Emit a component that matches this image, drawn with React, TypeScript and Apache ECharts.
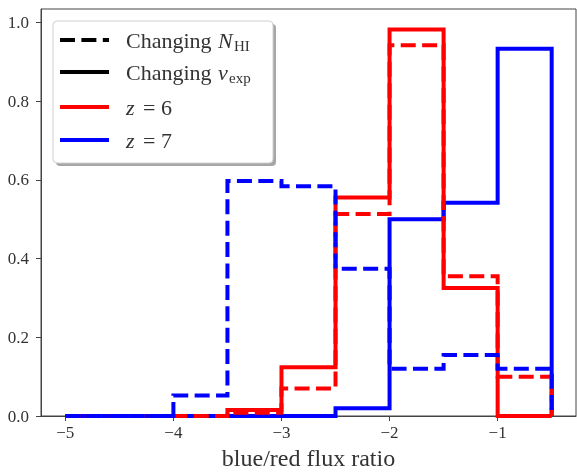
import React, { useEffect, useRef } from "react";
import * as echarts from "echarts";

const binEdges = [-5, -4.5, -4, -3.5, -3, -2.5, -2, -1.5, -1, -0.5];
const z6Vexp = [0, 0, 0, 0.015, 0.124, 0.555, 0.982, 0.325, 0];
const z6NHI = [0, 0, 0, 0.008, 0.07, 0.513, 0.942, 0.355, 0.1];
const z7Vexp = [0, 0, 0, 0, 0, 0.02, 0.5, 0.542, 0.933];
const z7NHI = [0, 0, 0.052, 0.597, 0.584, 0.374, 0.12, 0.155, 0.12];
const xTicks = [-5, -4, -3, -2, -1];
const yTicks = [0, 0.2, 0.4, 0.6, 0.8, 1.0];

const FONT = "'Liberation Serif', 'DejaVu Serif', serif";

function stepData(vals: number[]) {
  const d: number[][] = [[binEdges[0], 0]];
  vals.forEach((v, i) => d.push([binEdges[i], v]));
  d.push([binEdges[binEdges.length - 1], 0]);
  return d;
}

export default function App() {
  const ref = useRef<HTMLDivElement>(null);
  useEffect(() => {
    const chart = echarts.init(ref.current!, null, { renderer: "svg" });
    const dash = [15, 6.4];
    const mk = (name: string, vals: number[], color: string, dashed: boolean, z: number) => ({
      name,
      type: "line",
      step: "end",
      symbol: "none",
      data: stepData(vals),
      z,
      lineStyle: { color, width: 4, type: dashed ? dash : "solid", join: "miter", cap: "butt" },
    });
    const legendX = 53, legendY = 21, legendW = 220, legendH = 142;
    const lineX1 = 60, lineX2 = 109, textX = 126;
    const rows = [40, 72, 107, 140];
    chart.setOption({
      animation: false,
      grid: {
        left: 41, right: 1, top: 9, bottom: 57,
        show: true, borderColor: "#444", borderWidth: 1,
        containLabel: false, outerBoundsMode: "none",
      },
      xAxis: {
        type: "value",
        min: -5.225,
        max: -0.275,
        splitLine: { show: false },
        axisLine: { show: true, lineStyle: { color: "#444" } },
        axisTick: { show: true, length: 5, lineStyle: { color: "#444" }, customValues: xTicks },
        axisLabel: {
          customValues: xTicks,
          formatter: (v: number) => (v < 0 ? "\u2212" + Math.abs(v) : String(v)),
          fontFamily: FONT,
          fontSize: 17,
          color: "#333",
          margin: 8,
        },
        name: "blue/red flux ratio",
        nameLocation: "middle",
        nameGap: 26,
        nameTextStyle: { fontFamily: FONT, fontSize: 24, color: "#333" },
      },
      yAxis: {
        type: "value",
        min: 0,
        max: 1.034,
        splitLine: { show: false },
        axisLine: { show: true, lineStyle: { color: "#444" } },
        axisTick: { show: true, length: 5, lineStyle: { color: "#444" }, customValues: yTicks },
        axisLabel: {
          customValues: yTicks,
          formatter: (v: number) => v.toFixed(1),
          fontFamily: FONT,
          fontSize: 17,
          color: "#333",
          margin: 12,
        },
      },
      series: [
        mk("z6 vexp", z6Vexp, "#ff0000", false, 2),
        mk("z7 vexp", z7Vexp, "#0000ff", false, 3),
        mk("z6 NHI", z6NHI, "#ff0000", true, 4),
        mk("z7 NHI", z7NHI, "#0000ff", true, 5),
      ],
      graphic: [
        {
          type: "rect",
          z: 100,
          shape: { x: legendX + 3, y: legendY + 3, width: legendW, height: legendH, r: 4 },
          style: { fill: "rgba(0,0,0,0.35)" },
        },
        {
          type: "rect",
          z: 101,
          shape: { x: legendX, y: legendY, width: legendW, height: legendH, r: 4 },
          style: { fill: "#fff", stroke: "#d0d0d0", lineWidth: 1 },
        },
        { type: "line", z: 102, shape: { x1: lineX1, y1: rows[0], x2: lineX2, y2: rows[0] }, style: { stroke: "#000", lineWidth: 4, lineDash: dash } },
        { type: "line", z: 102, shape: { x1: lineX1, y1: rows[1], x2: lineX2, y2: rows[1] }, style: { stroke: "#000", lineWidth: 4 } },
        { type: "line", z: 102, shape: { x1: lineX1, y1: rows[2], x2: lineX2, y2: rows[2] }, style: { stroke: "#ff0000", lineWidth: 4 } },
        { type: "line", z: 102, shape: { x1: lineX1, y1: rows[3], x2: lineX2, y2: rows[3] }, style: { stroke: "#0000ff", lineWidth: 4 } },
        { type: "text", z: 103, x: textX, y: rows[0], style: { text: "Changing", font: `22px ${FONT}`, fill: "#333", verticalAlign: "middle" } },
        { type: "text", z: 103, x: 218, y: rows[0], style: { text: "N", font: `italic 22px ${FONT}`, fill: "#333", verticalAlign: "middle" } },
        { type: "text", z: 103, x: 234, y: rows[0] + 6, style: { text: "HI", font: `15px ${FONT}`, fill: "#333", verticalAlign: "middle" } },
        { type: "text", z: 103, x: textX, y: rows[1], style: { text: "Changing", font: `22px ${FONT}`, fill: "#333", verticalAlign: "middle" } },
        { type: "text", z: 103, x: 218, y: rows[1], style: { text: "v", font: `italic 22px ${FONT}`, fill: "#333", verticalAlign: "middle" } },
        { type: "text", z: 103, x: 229, y: rows[1] + 6, style: { text: "exp", font: `15px ${FONT}`, fill: "#333", verticalAlign: "middle" } },
        { type: "text", z: 103, x: textX, y: rows[2], style: { text: "z", font: `italic 22px ${FONT}`, fill: "#333", verticalAlign: "middle" } },
        { type: "text", z: 103, x: 143, y: rows[2], style: { text: "= 6", font: `22px ${FONT}`, fill: "#333", verticalAlign: "middle" } },
        { type: "text", z: 103, x: textX, y: rows[3], style: { text: "z", font: `italic 22px ${FONT}`, fill: "#333", verticalAlign: "middle" } },
        { type: "text", z: 103, x: 143, y: rows[3], style: { text: "= 7", font: `22px ${FONT}`, fill: "#333", verticalAlign: "middle" } },
      ],
    });
    return () => chart.dispose();
  }, []);
  return <div ref={ref} style={{ position: "fixed", left: 0, top: 0, width: 577, height: 473 }} />;
}
